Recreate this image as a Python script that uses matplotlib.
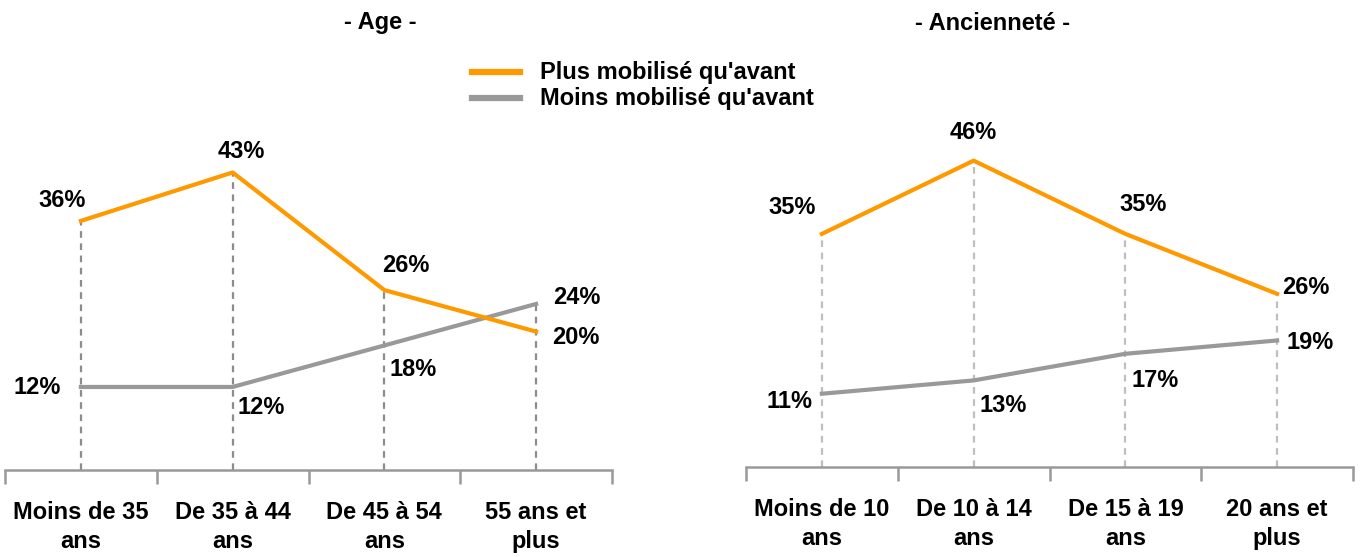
import matplotlib.pyplot as plt

plt.rcParams["font.family"] = ["Liberation Sans", "DejaVu Sans"]
plt.rcParams["font.weight"] = "bold"

age_labels = ["Moins de 35\nans", "De 35 à 44\nans", "De 45 à 54\nans", "55 ans et\nplus"]
age_plus = [36, 43, 26, 20]
age_moins = [12, 12, 18, 24]

anc_labels = ["Moins de 10\nans", "De 10 à 14\nans", "De 15 à 19\nans", "20 ans et\nplus"]
anc_plus = [35, 46, 35, 26]
anc_moins = [11, 13, 17, 19]

ORANGE = "#FF9900"
GREY = "#999999"
FS = 17

W, H = 1363, 557
fig = plt.figure(figsize=(W / 100, H / 100), dpi=100)


def px_axes(x0, x1, y_bottom, y_top):
    return fig.add_axes([x0 / W, 1 - y_bottom / H, (x1 - x0) / W, (y_bottom - y_top) / H])


def draw_panel(ax, labels, plus, moins, plus_off, moins_off, drop_color):
    xs = range(len(labels))
    for x, p, m in zip(xs, plus, moins):
        ax.plot([x, x], [0, max(p, m)], color=drop_color, lw=1.6, ls=(0, (3, 2.5)), zorder=1)
    ax.plot(xs, plus, color=ORANGE, lw=3, zorder=3)
    ax.plot(xs, moins, color=GREY, lw=3, zorder=2)
    for x, v, off in zip(xs, plus, plus_off):
        ax.annotate(f"{v}%", (x, v), xytext=off, textcoords="offset pixels",
                    ha="center", va="center", fontsize=FS, fontweight="bold")
    for x, v, off in zip(xs, moins, moins_off):
        ax.annotate(f"{v}%", (x, v), xytext=off, textcoords="offset pixels",
                    ha="center", va="center", fontsize=FS, fontweight="bold")

    ax.set_xlim(-0.5, len(labels) - 0.5)
    ax.set_ylim(0, 50)
    for s in ["top", "left", "right"]:
        ax.spines[s].set_visible(False)
    ax.spines["bottom"].set_color(GREY)
    ax.spines["bottom"].set_linewidth(1.8)
    ax.set_yticks([])
    ax.set_xticks(list(xs))
    ax.set_xticklabels(labels, fontsize=FS, fontweight="bold", linespacing=1.35)
    ax.tick_params(axis="x", which="major", length=0, pad=22)
    ax.set_xticks([i - 0.5 for i in range(len(labels) + 1)], minor=True)
    ax.tick_params(axis="x", which="minor", length=10, width=1.8, color=GREY)
    ax.patch.set_alpha(0)


ax1 = px_axes(5, 612, 470, 124)
draw_panel(ax1, age_labels, age_plus, age_moins,
           plus_off=[(-19, 20), (9, 21), (21, 25), (40, -6)],
           moins_off=[(-44, -1), (29, -21), (29, -24), (41, 6)],
           drop_color="#8c8c8c")

ax2 = px_axes(746, 1353, 467, 134)
draw_panel(ax2, anc_labels, anc_plus, anc_moins,
           plus_off=[(-30, 26), (0, 28), (18, 29), (29, 6)],
           moins_off=[(-32, -8), (30, -25), (30, -27), (33, -2)],
           drop_color="#bfbfbf")

fig.text(380 / W, 1 - 23 / H, "- Age -", ha="center", va="center", fontsize=FS, fontweight="bold")
fig.text(993 / W, 1 - 23 / H, "- Ancienneté -", ha="center", va="center", fontsize=FS, fontweight="bold")

# legend drawn by hand in figure pixels
for y, c, txt in [(72, ORANGE, "Plus mobilisé qu'avant"), (98, GREY, "Moins mobilisé qu'avant")]:
    fig.add_artist(plt.Line2D([472 / W, 520 / W], [1 - y / H, 1 - y / H], color=c, lw=4.5))
    fig.text(540 / W, 1 - y / H, txt, ha="left", va="center", fontsize=FS, fontweight="bold")

fig.savefig("out.png", dpi=100)
